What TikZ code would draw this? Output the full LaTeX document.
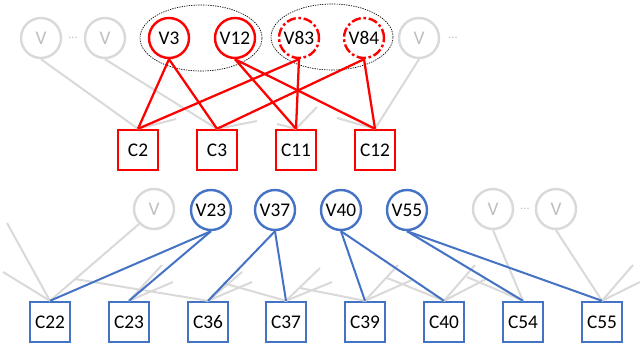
\documentclass[tikz,border=0pt]{standalone}
\usepackage{fontspec}
\setmainfont{Carlito}
\usetikzlibrary{shapes.geometric}
\definecolor{cred}{RGB}{255,0,0}
\definecolor{cblue}{RGB}{68,114,196}
\definecolor{cgrey}{RGB}{217,217,217}
\definecolor{tgrey}{RGB}{191,191,191}
\begin{document}
\begin{tikzpicture}[x=0.75pt,y=-0.75pt,
  vnode/.style={circle, draw, line width=1.8pt, minimum size=30pt, inner sep=0pt, fill=white, font=\fontsize{14.5}{16}\selectfont},
  rv/.style={vnode, draw=cred},
  rvd/.style={rv, dash pattern=on 7pt off 2pt on 2pt off 2pt},
  bv/.style={vnode, draw=cblue},
  gv/.style={vnode, draw=cgrey, text=tgrey},
  cnode/.style={rectangle, draw, line width=1.8pt, minimum size=30pt, inner sep=0pt, fill=white, font=\fontsize{14.5}{16}\selectfont},
  rc/.style={cnode, draw=cred},
  bc/.style={cnode, draw=cblue},
  redge/.style={cred, line width=1.7pt},
  bedge/.style={cblue, line width=1.5pt},
  gedge/.style={cgrey, line width=1.5pt},
  grp/.style={ellipse, draw=black, line width=0.5pt, dash pattern=on 1pt off 0.8pt, minimum width=91.5pt, minimum height=49.5pt},
  dots/.style={text=tgrey, font=\fontsize{9}{10}\selectfont}
]
\useasboundingbox (0,0) rectangle (640,351);

% groups
\node[grp] (g1) at (201,38) {};
\node[grp] (g2) at (332,37) {};

% top variable nodes
\node[gv] (ga) at (41,38) {V};
\node[dots] (d1) at (73,38) {...};
\node[gv] (gb) at (105,38) {V};
\node[rv] (v3) at (169,38) {V3};
\node[rv] (v12) at (235,38) {V12};
\node[rvd] (v83) at (299,38) {V83};
\node[rvd] (v84) at (364,38) {V84};
\node[gv] (gc) at (419,38) {V};
\node[dots] (d2) at (453,38) {...};

% top check nodes
\node[rc] (c2) at (138,150) {C2};
\node[rc] (c3) at (217,150) {C3};
\node[rc] (c11) at (296,150) {C11};
\node[rc] (c12) at (375,150) {C12};

% bottom variable nodes
\node[gv] (gd) at (154,209) {V};
\node[bv] (v23) at (211,210) {V23};
\node[bv] (v37) at (275,210) {V37};
\node[bv] (v40) at (341,210) {V40};
\node[bv] (v55) at (407,210) {V55};
\node[gv] (ge) at (493,209) {V};
\node[dots] (d3) at (525,209) {...};
\node[gv] (gf) at (556,209) {V};

% bottom check nodes
\node[bc] (c22) at (50,322) {C22};
\node[bc] (c23) at (129,322) {C23};
\node[bc] (c36) at (208,322) {C36};
\node[bc] (c37) at (286,322) {C37};
\node[bc] (c39) at (365,322) {C39};
\node[bc] (c40) at (444,322) {C40};
\node[bc] (c54) at (523,322) {C54};
\node[bc] (c55) at (602,322) {C55};

% free stub ends
\coordinate (s2r) at (176,119);
\coordinate (s3r) at (257,121);
\coordinate (s11l) at (277,124);
\coordinate (s11r) at (317,107);
\coordinate (s12l) at (337,118);
\coordinate (s22a) at (7,223);
\coordinate (s22b) at (3,272);
\coordinate (s23a) at (162,265);
\coordinate (s23b) at (173,282);
\coordinate (s36l) at (75,279);
\coordinate (s36a) at (242,272);
\coordinate (s36b) at (252,282);
\coordinate (s37l) at (223,283);
\coordinate (s37a) at (320,268);
\coordinate (s37b) at (332,282);
\coordinate (s39l) at (300,288);
\coordinate (s39a) at (398,265);
\coordinate (s39b) at (412,280);
\coordinate (s40l) at (387,278);
\coordinate (s40a) at (475,265);
\coordinate (s40b) at (486,279);
\coordinate (s54l) at (467,277);
\coordinate (s55a) at (633,265);
\coordinate (s55b) at (640,282);

% grey edges top
\draw[gedge] (ga.south) -- (c2.north);
\draw[gedge] (gb.south) -- (c3.north);
\draw[gedge] (gc.south) -- (c12.north);
\draw[gedge] (c2.north) -- (s2r);
\draw[gedge] (c3.north) -- (s3r);
\draw[gedge] (c11.north) -- (s11l);
\draw[gedge] (c11.north) -- (s11r);
\draw[gedge] (c12.north) -- (s12l);

% grey edges bottom
\draw[gedge] (gd.south west) -- (c22.north);
\draw[gedge] (c22.north) -- (s22a);
\draw[gedge] (c22.north) -- (s22b);
\draw[gedge] (c23.north) -- (s23a);
\draw[gedge] (c23.north) -- (s23b);
\draw[gedge] (c36.north) -- (s36l);
\draw[gedge] (c36.north) -- (s36a);
\draw[gedge] (c36.north) -- (s36b);
\draw[gedge] (c37.north) -- (s37l);
\draw[gedge] (c37.north) -- (s37a);
\draw[gedge] (c37.north) -- (s37b);
\draw[gedge] (c39.north) -- (s39l);
\draw[gedge] (c39.north) -- (s39a);
\draw[gedge] (c39.north) -- (s39b);
\draw[gedge] (c40.north) -- (s40l);
\draw[gedge] (c40.north) -- (s40a);
\draw[gedge] (c40.north) -- (s40b);
\draw[gedge] (ge.south) -- (c54.north);
\draw[gedge] (c54.north) -- (s54l);
\draw[gedge] (gf.south) -- (c55.north);
\draw[gedge] (c55.north) -- (s55a);
\draw[gedge] (c55.north) -- (s55b);

% red edges
\draw[redge] (v3.south) -- (c2.north);
\draw[redge] (v3.south) -- (c3.north);
\draw[redge] (v12.south) -- (c11.north);
\draw[redge] (v12.south) -- (c12.north);
\draw[redge] (v83.south) -- (c2.north);
\draw[redge] (v83.south) -- (c11.north);
\draw[redge] (v84.south) -- (c3.north);
\draw[redge] (v84.south) -- (c12.north);

% blue edges
\draw[bedge] (v23.south) -- (c22.north);
\draw[bedge] (v23.south) -- (c23.north);
\draw[bedge] (v37.south) -- (c36.north);
\draw[bedge] (v37.south) -- (c37.north);
\draw[bedge] (v40.south) -- (c39.north);
\draw[bedge] (v40.south) -- (c40.north);
\draw[bedge] (v55.south) -- (c54.north);
\draw[bedge] (v55.south) -- (c55.north);
\end{tikzpicture}
\end{document}
